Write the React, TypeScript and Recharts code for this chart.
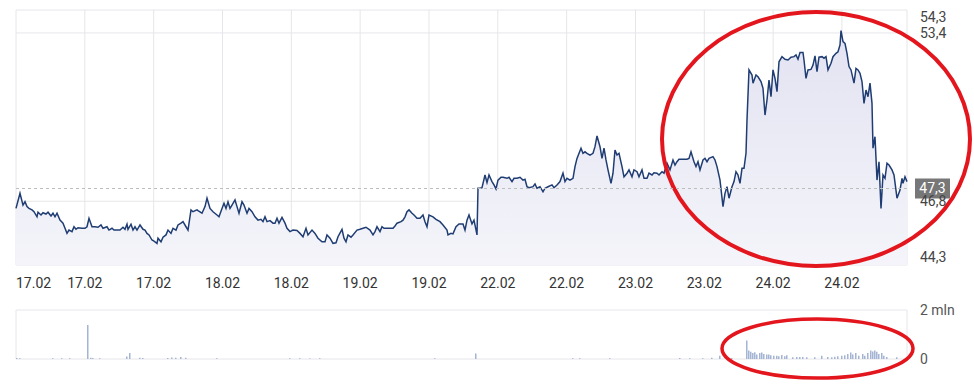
import React from 'react';
import { ComposedChart, Area, Bar, XAxis, YAxis, CartesianGrid, ReferenceLine, ReferenceArea } from 'recharts';

// intraday price, [time index, price] — split by stretch of sessions
const pricesA: [number, number][] = [
  [0, 46.52], [4, 47.11], [7, 46.65], [9, 46.78], [11, 46.59], [13, 46.52], [16, 46.46], [18, 46.39], [21, 46.19], [22, 46.37],
  [25, 46.26], [27, 46.35], [30, 46.3], [32, 46.37], [35, 46.22], [37, 46.33], [39, 46.19], [41, 46.33], [44, 46.06], [47, 45.94],
  [49, 45.74], [51, 45.54], [53, 45.67], [56, 45.61], [58, 45.8], [60, 45.7], [62, 45.76], [66, 45.74], [69, 45.74], [71, 45.8],
  [73, 46.13], [76, 45.8], [79, 45.8], [82, 45.78], [85, 45.87], [87, 45.74], [91, 45.8], [93, 45.67], [96, 45.74], [98, 45.67],
  [101, 45.67], [104, 45.67], [107, 45.78], [109, 45.7], [111, 45.9], [112, 45.7], [115, 45.9], [117, 45.67], [119, 45.8], [121, 45.67],
  [124, 45.87], [127, 45.7], [129, 45.67], [131, 45.54], [133, 45.48], [136, 45.28], [138, 45.24], [141, 45.15], [142, 45.35], [145, 45.21],
  [147, 45.39], [150, 45.48], [152, 45.67], [155, 45.54], [157, 45.74], [160, 45.67], [162, 45.87], [165, 45.94], [167, 46.0], [170, 45.8],
  [172, 45.67], [175, 46.46], [177, 46.39], [181, 46.46],
];
const pricesB: [number, number][] = [
  [182, 46.43], [186, 46.33], [189, 46.59], [191, 46.92], [194, 46.52], [197, 46.39], [201, 46.26], [203, 46.19], [206, 46.52], [208, 46.72],
  [210, 46.52], [212, 46.78], [214, 46.52], [216, 46.65], [219, 46.85], [221, 46.59], [223, 46.33], [226, 46.78], [228, 46.65], [231, 46.33],
  [233, 46.52], [236, 46.39], [239, 46.19], [242, 46.06], [245, 46.09], [247, 46.0], [249, 46.19], [251, 46.0], [254, 46.04], [257, 45.94],
  [259, 45.94], [261, 46.13], [263, 45.94], [266, 46.17], [269, 45.94], [271, 45.74], [274, 45.61], [277, 45.67], [281, 45.65], [284, 45.54],
  [287, 45.41], [290, 45.74], [292, 45.48], [296, 45.67], [299, 45.54], [302, 45.35], [306, 45.21], [309, 45.21], [311, 45.48], [314, 45.35],
  [317, 45.15], [320, 45.17], [322, 45.41], [326, 45.7], [328, 45.35], [330, 45.21], [332, 45.48], [335, 45.39], [337, 45.48], [341, 45.67],
  [344, 45.7], [347, 45.74], [350, 45.78],
];
const pricesC: [number, number][] = [
  [354, 45.67], [357, 45.48], [359, 45.61], [361, 45.8], [364, 45.61], [366, 45.8], [368, 45.74], [372, 45.74], [377, 45.74], [379, 45.83],
  [381, 45.94], [385, 46.0], [387, 46.06], [389, 46.19], [391, 46.39], [393, 46.46], [396, 46.33], [398, 46.26], [401, 46.13], [404, 46.13],
  [407, 46.26], [409, 46.0], [411, 45.8], [413, 46.26], [417, 46.19], [420, 46.09], [424, 46.0], [427, 45.87], [431, 45.67], [432, 45.48],
  [435, 45.54], [437, 45.52], [440, 45.8], [443, 45.91], [447, 45.91], [449, 45.67], [451, 46.06], [453, 46.26], [456, 45.91], [458, 46.06],
  [461, 45.48], [462, 47.31], [464, 47.31], [466, 47.33], [469, 47.83], [471, 47.53], [473, 47.83], [476, 47.57], [478, 47.44], [480, 47.28],
  [482, 47.63], [485, 47.74], [487, 47.74], [491, 47.7], [493, 47.74], [496, 47.57], [498, 47.7], [501, 47.7], [504, 47.74], [507, 47.63],
  [509, 47.66], [511, 47.37], [513, 47.33], [517, 47.37], [519, 47.48], [521, 47.31], [524, 47.37], [527, 47.17], [529, 47.31], [532, 47.37],
  [536, 47.44],
];
const pricesD: [number, number][] = [
  [538, 47.33], [541, 47.44], [544, 47.57], [547, 47.9], [549, 47.57], [551, 47.7], [554, 47.63], [557, 47.7], [559, 48.16], [561, 48.48],
  [565, 48.88], [567, 48.68], [569, 48.74], [571, 48.68], [574, 48.61], [577, 48.68], [579, 48.94], [581, 49.36], [584, 48.94], [586, 48.48],
  [588, 48.88], [590, 48.42], [592, 48.03], [595, 47.5], [597, 47.9], [599, 48.81], [601, 48.61], [603, 48.68], [606, 48.16], [608, 47.76],
  [611, 47.9], [613, 48.03], [616, 47.76], [618, 48.03], [621, 47.96], [623, 47.76], [626, 48.03], [628, 47.7], [631, 47.7], [633, 47.9],
  [636, 47.83], [638, 47.92], [641, 47.9], [643, 47.83], [646, 47.96], [648, 47.9], [651, 48.29], [654, 48.03], [657, 48.42], [659, 48.22],
  [661, 48.35], [663, 48.45], [667, 48.45], [671, 48.45], [673, 48.48], [675, 48.74], [678, 48.35], [680, 48.16], [682, 48.35], [684, 48.03],
  [687, 48.42], [689, 48.48], [691, 48.35], [693, 48.48], [697, 48.55], [699, 48.42], [701, 48.16], [704, 47.63],
];
const pricesE: [number, number][] = [
  [707, 46.59], [709, 47.11], [711, 47.37], [713, 46.92], [716, 47.37], [718, 47.57], [720, 47.96], [722, 47.83], [724, 47.5], [726, 48.09],
  [728, 48.09], [730, 48.68], [731, 49.99], [733, 51.95], [736, 51.75], [737, 51.43], [740, 51.75], [742, 51.68], [745, 51.49], [747, 51.23],
  [749, 50.18], [751, 50.77], [753, 51.55], [755, 50.9], [757, 51.95], [759, 51.62], [761, 51.1], [763, 52.27], [766, 52.47], [769, 52.37],
  [772, 52.34], [775, 52.45], [778, 52.47], [780, 52.54], [782, 52.37], [784, 52.63], [787, 52.63], [788, 52.34], [790, 51.62], [792, 51.95],
  [795, 51.97], [797, 52.14], [799, 52.5], [801, 51.88], [803, 52.45], [806, 52.47], [808, 52.41], [810, 52.47], [812, 51.95], [815, 52.21],
  [817, 52.47], [820, 52.6], [822, 52.66], [824, 52.93], [825, 53.49], [827, 53.06], [829, 52.99], [831, 52.6], [833, 52.08], [835, 51.95],
  [838, 51.43], [840, 52.01], [842, 51.95], [844, 51.82], [846, 51.49], [848, 50.64], [850, 51.16], [852, 50.9], [854, 51.43], [856, 50.64],
  [857, 48.88], [859, 49.33], [861, 47.63], [863, 48.35], [865, 46.52], [867, 47.83], [869, 47.7], [871, 48.29], [873, 48.22], [876, 48.03],
  [878, 47.83], [881, 46.92], [884, 47.24], [886, 47.7], [887, 47.5], [889, 47.76], [891, 47.57],
];

// volume in millions, [time index, volume]
const volumes: [number, number][] = [
  [1, 0.04], [4, 0.03], [37, 0.03], [46, 0.03], [54, 0.03], [72, 1.39], [75, 0.05], [77, 0.04], [84, 0.03], [111, 0.1],
  [114, 0.24], [124, 0.05], [127, 0.04], [152, 0.04], [156, 0.06], [160, 0.05], [165, 0.08], [170, 0.05], [201, 0.03], [274, 0.03],
  [284, 0.03], [294, 0.02], [304, 0.03], [419, 0.03], [460, 0.22], [557, 0.03], [564, 0.03], [594, 0.03], [664, 0.04], [674, 0.03],
  [687, 0.03], [696, 0.05], [704, 0.13], [716, 0.04], [731, 0.76], [733, 0.35], [735, 0.3], [737, 0.25], [739, 0.28], [741, 0.18],
  [744, 0.25], [746, 0.27], [748, 0.2], [751, 0.18], [753, 0.18], [755, 0.15], [758, 0.13], [761, 0.13], [763, 0.11], [766, 0.16],
  [769, 0.11], [771, 0.15], [777, 0.07], [781, 0.08], [784, 0.08], [787, 0.08], [791, 0.07], [799, 0.07], [806, 0.13], [812, 0.08],
  [816, 0.07], [819, 0.09], [822, 0.11], [826, 0.13], [829, 0.15], [832, 0.2], [835, 0.27], [837, 0.18], [840, 0.25], [843, 0.13],
  [847, 0.2], [849, 0.13], [852, 0.25], [855, 0.35], [857, 0.31], [859, 0.35], [861, 0.3], [863, 0.2], [866, 0.25], [868, 0.13],
  [871, 0.08], [881, 0.07],
];

const dateLabels = ['17.02', '17.02', '17.02', '18.02', '18.02', '19.02', '19.02', '22.02', '22.02', '23.02', '23.02', '24.02', '24.02'];
const priceTicks = [44.3, 46.8, 53.4, 54.3];
const lastPrice = 47.3;
const volTicks = [0, 2];

const T_MAX = 891;
const FONT = 'Roboto, Arial, sans-serif';

const priceData = [...pricesA, ...pricesB, ...pricesC, ...pricesD, ...pricesE].map(([t, p]) => ({ t, p }));
const volData = volumes.map(([t, v]) => ({ t, v }));

// grid spacing differs slightly between the two panels
const priceXTicks = dateLabels.map((_, i) => i * 68.83);
const volXTicks = Array.from({ length: 14 }, (_, i) => i * 67.77);

const fmt = (v: number) => v.toFixed(1).replace('.', ',');

const XTick = (props: any) => {
  const { x, y, index } = props;
  const label = dateLabels[index];
  if (!label) return null;
  return (
    <text x={x} y={y + 15} textAnchor={index === 0 ? 'start' : 'middle'} fill="#333" fontSize={14} fontFamily={FONT}>
      {label}
    </text>
  );
};

const PriceTick = (props: any) => {
  const { y, payload } = props;
  const v = payload.value;
  // top and bottom labels are kept inside the plot
  const shift = v === 54.3 ? 7 : v === 44.3 ? -8 : 0;
  return (
    <text x={920} y={y + shift} dy="0.35em" fill="#444" fontSize={14} fontFamily={FONT}>
      {fmt(v)}
    </text>
  );
};

const VolTick = (props: any) => {
  const { y, payload } = props;
  return (
    <text x={920} y={y} dy="0.35em" fill="#555" fontSize={14} fontFamily={FONT}>
      {payload.value === 0 ? '0' : `${payload.value} mln`}
    </text>
  );
};

const PriceTag = (props: any) => {
  const { viewBox } = props;
  const x = viewBox.x + viewBox.width + 8;
  const y = viewBox.y;
  return (
    <g>
      <rect x={x} y={y - 10} width={35} height={20} fill="#777" />
      <text x={x + 17.5} y={y} dy="0.35em" textAnchor="middle" fill="#fff" fontSize={14} fontFamily={FONT}>
        {fmt(lastPrice)}
      </text>
    </g>
  );
};

const RedEllipse = (sw: number) => (props: any) => {
  const { x, y, width, height } = props;
  return (
    <ellipse cx={x + width / 2} cy={y + height / 2} rx={width / 2} ry={height / 2} fill="none" stroke="#e3161e" strokeWidth={sw} />
  );
};

export default function App() {
  return (
    <div style={{ position: 'absolute', left: 0, top: 0, width: 974, height: 389, background: '#fff', fontFamily: FONT }}>
      <ComposedChart width={974} height={300} data={priceData} margin={{ top: 10, right: 7, bottom: 5, left: 16 }}>
        <defs>
          <linearGradient id="priceFill" x1="0" y1="0" x2="0" y2="1">
            <stop offset="0%" stopColor="#e3e3f2" />
            <stop offset="100%" stopColor="#f4f4fa" />
          </linearGradient>
        </defs>
        <CartesianGrid stroke="#e6e6ea" />
        <XAxis
          dataKey="t"
          type="number"
          domain={[0, T_MAX]}
          ticks={priceXTicks}
          interval={0}
          axisLine={false}
          tickLine={false}
          height={30}
          tick={<XTick />}
        />
        <YAxis
          orientation="right"
          width={60}
          domain={[44.3, 54.3]}
          ticks={priceTicks}
          interval={0}
          axisLine={false}
          tickLine={false}
          tick={<PriceTick />}
        />
        <Area
          type="linear"
          dataKey="p"
          stroke="#1f3d73"
          strokeWidth={1.5}
          fill="url(#priceFill)"
          fillOpacity={1}
          dot={false}
          activeDot={false}
          isAnimationActive={false}
        />
        <ReferenceLine y={lastPrice} stroke="#bdbdbd" strokeDasharray="3 3" label={<PriceTag />} />
        <ReferenceArea x1={646} x2={954} y1={44.26} y2={54.22} ifOverflow="visible" shape={RedEllipse(4)} />
      </ComposedChart>
      <ComposedChart width={974} height={89} data={volData} margin={{ top: 10, right: 7, bottom: 30, left: 16 }}>
        <CartesianGrid stroke="#e6e6ea" />
        <XAxis
          dataKey="t"
          type="number"
          domain={[0, T_MAX]}
          ticks={volXTicks}
          interval={0}
          tick={false}
          axisLine={false}
          tickLine={false}
          height={0}
        />
        <YAxis
          orientation="right"
          width={60}
          domain={[0, 2]}
          ticks={volTicks}
          interval={0}
          axisLine={false}
          tickLine={false}
          tick={<VolTick />}
        />
        <Bar dataKey="v" fill="#a3b4d4" barSize={1.5} isAnimationActive={false} />
        <ReferenceArea x1={706} x2={897} y1={-0.78} y2={1.63} ifOverflow="visible" shape={RedEllipse(3.5)} />
      </ComposedChart>
    </div>
  );
}
